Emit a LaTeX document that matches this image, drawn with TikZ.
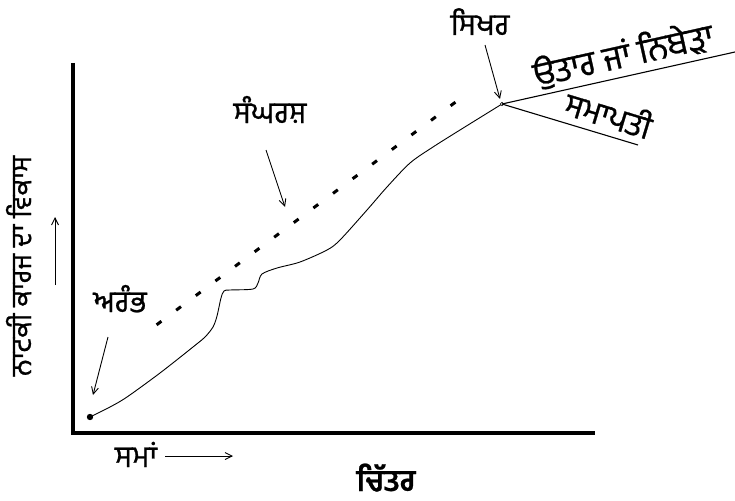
\documentclass[tikz,border=0pt]{standalone}
\usepackage{fontspec}
\newfontfamily\pa[Script=Gurmukhi,FakeBold=0.8]{Hind Jalandhar}
\usetikzlibrary{arrows.meta}
\tikzset{
  lbl/.style={font=\pa\fontsize{30}{34}\selectfont, inner sep=0pt, anchor=base},
  ptr/.style={line width=0.9pt, -{Straight Barb[length=7pt,width=7pt]}},
  axis/.style={line width=3.4pt},
  curve/.style={line width=0.9pt},
  dashline/.style={line width=3pt, dash pattern=on 6pt off 18.44pt},
  branch/.style={line width=1.1pt}
}
\begin{document}
\begin{tikzpicture}[x=1pt,y=-1pt]
\useasboundingbox (0,0) rectangle (735,500);
% axes
\coordinate (top) at (73,63);
\coordinate (orig) at (73,433);
\coordinate (xend) at (595,433);
\draw[axis] (top) -- (orig) -- (xend);
% curve
\coordinate (start) at (90,417);
\coordinate (peak) at (502,104);
\draw[curve] plot[smooth, tension=0.5] coordinates {(90,417) (110,407) (127,397) (160,373) (193,347) (205,337) (213,327) (217,316) (221,298) (224,291) (230,290) (253,289) (258,283) (262,274) (277,268) (300,262) (327,250) (340,240) (367,210) (387,187) (410,163) (433,147) (460,130) (502,104)};
\fill (start) circle (3.2pt);
\draw[line width=0.6pt, fill=white] (peak) circle (1.8pt);
% dashed line
\coordinate (d1) at (156.6,324.8);
\coordinate (d2) at (455.4,102.2);
\draw[dashline] (d1) -- (d2);
% branches
\coordinate (b1) at (735,52);
\coordinate (b2) at (638,145);
\draw[branch] (peak) -- (b1);
\draw[branch] (peak) -- (b2);
% labels
\node[lbl] (sikhar) at (480,35) {ਸਿਖਰ};
\coordinate (sa) at (485,45);
\coordinate (sb) at (500,99);
\draw[ptr] (sa) -- (sb);
\node[lbl, rotate=12.6, font=\pa\fontsize{34}{38}\selectfont] (utar) at (626,67) {ਉਤਾਰ ਜਾਂ ਨਿਬੇੜਾ};
\node[lbl, rotate=-16.8, font=\pa\fontsize{32}{36}\selectfont] (samapti) at (605,127) {ਸਮਾਪਤੀ};
\node[lbl] (sangharsh) at (270,123) {ਸੰਘਰਸ਼};
\coordinate (ga) at (266,150);
\coordinate (gb) at (285,207);
\draw[ptr] (ga) -- (gb);
\node[lbl] (arambh) at (120,312) {ਅਰੰਭ};
\coordinate (aa) at (108,337);
\coordinate (ab) at (93,395);
\draw[ptr] (aa) -- (ab);
\node[lbl] (sama) at (136,467) {ਸਮਾਂ};
\coordinate (ta) at (165,456);
\coordinate (tb) at (233,456);
\draw[ptr] (ta) -- (tb);
\node[lbl, rotate=90, font=\pa\fontsize{28}{32}\selectfont] (vikas) at (31,266) {ਨਾਟਕੀ ਕਾਰਜ ਦਾ ਵਿਕਾਸ};
\coordinate (va) at (55,285);
\coordinate (vb) at (55,217);
\draw[ptr] (va) -- (vb);
\node[lbl, font=\pa\bfseries\fontsize{30}{34}\selectfont] (chitar) at (386,491) {ਚਿੱਤਰ};
\end{tikzpicture}
\end{document}
